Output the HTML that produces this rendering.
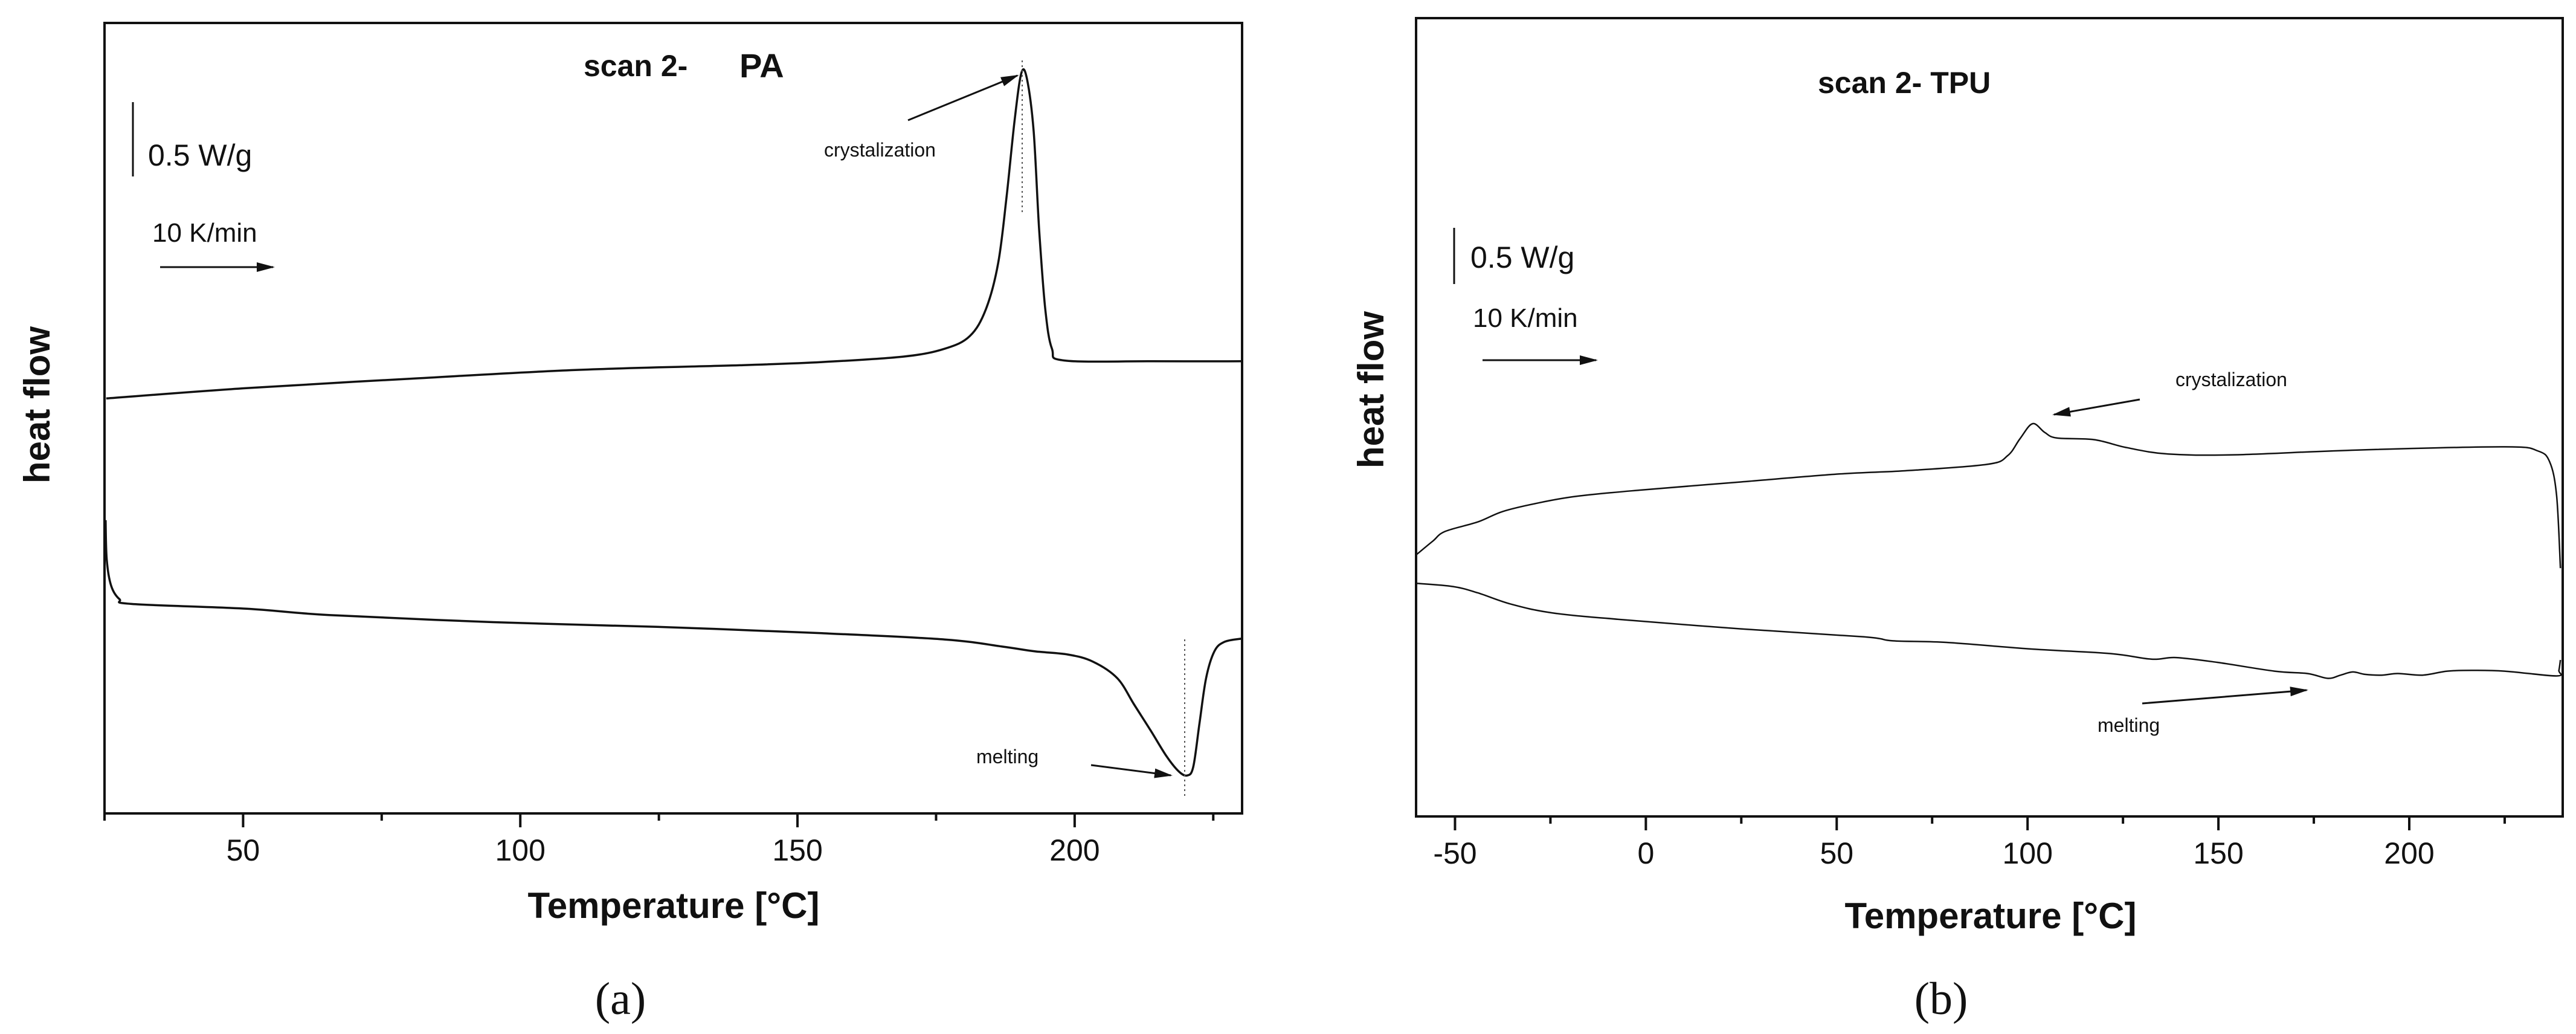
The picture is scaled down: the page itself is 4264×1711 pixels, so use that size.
<!DOCTYPE html>
<html><head><meta charset="utf-8">
<style>
html,body{margin:0;padding:0;background:#fff;}
svg{display:block;}
text{font-family:"Liberation Sans",Arial,sans-serif;fill:#111;}
</style></head>
<body>
<svg id="fig" width="4264" height="1711" viewBox="0 0 4264 1711" xmlns="http://www.w3.org/2000/svg">
  <rect x="0" y="0" width="4264" height="1711" fill="#fff"/>
  <defs>
    <marker id="ah" viewBox="0 0 10 10" refX="9" refY="5" markerWidth="30" markerHeight="16" orient="auto" markerUnits="userSpaceOnUse" preserveAspectRatio="none">
      <path d="M0,0 L10,5 L0,10 z" fill="#111"/>
    </marker>
  </defs>
  <g id="panelA"></g>
  <g id="panelB"></g>
</svg>
<script>
// ---------- Panel (a) PA data ----------
const paUpperT = [25.3,50.6,80.3,109.9,139.6,154.4,169.2,176.6,181.1,184.0,186.2,187.7,189.2,190.4,191.4,192.6,193.6,194.7,195.9,198.1,213.7,230];
const paUpperY = [52.5,53.8,55.0,56.1,56.7,57.1,57.8,58.8,60.4,63.8,69.6,77.9,87.9,93.7,92.9,86.3,73.8,63.8,58.8,57.3,57.2,57.2];
const paLowerT = [25.2,25.4,26.2,27.7,29.9,50.6,65.5,95.1,124.7,154.4,176.6,187.0,192.9,198.8,203.3,207.7,210.7,213.7,216.6,218.8,220.3,221.4,222.5,223.7,225.2,227.0,230];
const paLowerY = [37.1,32.1,28.8,27.1,26.5,25.9,25.1,24.2,23.6,22.8,22.0,21.1,20.5,20.1,19.2,17.1,13.8,10.5,7.2,5.3,4.8,5.9,11.3,17.1,20.5,21.7,22.1];
const paMajorTicks = [50,100,150,200];
const paMinorTicks = [25,75,125,175,225];
const paTickLabels = ["50","100","150","200"];

// ---------- Panel (b) TPU data ----------
const tpuUpperT = [-60.1,-55.8,-52.6,-44.0,-37.5,-28.9,-18.2,-1.0,24.9,50.7,67.9,89.4,94.8,98.0,101.3,104.5,107.7,117.4,126.0,136.8,154.0,186.3,225.0,233.6,236.8,238.6,239.6];
const tpuUpperY = [32.8,34.5,35.7,36.9,38.2,39.2,40.1,40.9,41.9,42.9,43.3,44.1,45.2,47.3,49.2,48.1,47.4,47.2,46.2,45.4,45.3,45.9,46.3,45.8,44.4,40.2,31.1];
const tpuLowerT = [-60.1,-50.5,-44.0,-35.4,-24.6,-7.4,24.9,57.1,64.7,78.7,100.2,121.7,132.5,138.9,149.7,164.7,173.3,178.7,182.0,185.2,188.4,192.7,197.0,203.5,209.9,216.4,225.0,238.6,239.2,239.6];
const tpuLowerY = [29.2,28.8,28.0,26.6,25.5,24.7,23.5,22.5,22.0,21.8,21.0,20.4,19.7,19.9,19.3,18.2,17.9,17.3,17.7,18.1,17.8,17.7,17.9,17.7,18.2,18.3,18.2,17.6,18.3,19.6];
const tpuMajorTicks = [-50,0,50,100,150,200];
const tpuMinorTicks = [-25,25,75,125,175,225];
const tpuTickLabels = ["-50","0","50","100","150","200"];

const NS = "http://www.w3.org/2000/svg";
function mk(parent, tag, attrs, txt){
  const e = document.createElementNS(NS, tag);
  for (const k in attrs) e.setAttribute(k, attrs[k]);
  if (txt !== undefined) e.textContent = txt;
  parent.appendChild(e);
  return e;
}
function linePath(T, Y, sx, sy){
  const P = T.map((t,i)=>[sx(t), sy(Y[i])]);
  let d = "M" + P[0][0].toFixed(1) + "," + P[0][1].toFixed(1);
  const k = 1/6;
  for (let i=0;i<P.length-1;i++){
    const p0 = P[Math.max(0,i-1)], p1 = P[i], p2 = P[i+1], p3 = P[Math.min(P.length-1,i+2)];
    const c1x = p1[0] + (p2[0]-p0[0])*k, c1y = p1[1] + (p2[1]-p0[1])*k;
    const c2x = p2[0] - (p3[0]-p1[0])*k, c2y = p2[1] - (p3[1]-p1[1])*k;
    d += "C" + c1x.toFixed(1)+","+c1y.toFixed(1)+" "+c2x.toFixed(1)+","+c2y.toFixed(1)+" "+p2[0].toFixed(1)+","+p2[1].toFixed(1);
  }
  return d;
}

function drawPanel(g, cfg){
  const sx = t => cfg.left + (t - cfg.xmin) / (cfg.xmax - cfg.xmin) * (cfg.right - cfg.left);
  const sy = v => cfg.bottom - v / 100 * (cfg.bottom - cfg.top);
  let c = mk(g, "path", {d: linePath(cfg.uT, cfg.uY, sx, sy), fill:"none", stroke:"#111", "stroke-width":cfg.sw, "stroke-linejoin":"round"});
  
  
  c = mk(g, "path", {d: linePath(cfg.lT, cfg.lY, sx, sy), fill:"none", stroke:"#111", "stroke-width":cfg.sw, "stroke-linejoin":"round"});
  
  
  const fr = mk(g, "rect", {x:cfg.left, y:cfg.top, width:cfg.right-cfg.left, height:cfg.bottom-cfg.top, fill:"none", stroke:"#111", "stroke-width":4});
  
  
  cfg.major.forEach((t,i)=>{
    const tk = mk(g, "line", {x1:sx(t), x2:sx(t), y1:cfg.bottom, y2:cfg.bottom+23, stroke:"#111", "stroke-width":4});
    
    
    const lb = mk(g, "text", {x:sx(t), y:cfg.bottom+78, "text-anchor":"middle", "font-size":50}, cfg.labels[i]);
    
    
  });
  cfg.minor.forEach(t=>{
    const tk = mk(g, "line", {x1:sx(t), x2:sx(t), y1:cfg.bottom, y2:cfg.bottom+12, stroke:"#111", "stroke-width":4});
    
    
  });
  return {sx, sy};
}

const gA = document.getElementById("panelA");
drawPanel(gA, {left:173, right:2056, top:38, bottom:1346, xmin:25, xmax:230.2, sw:3.5,
  uT:paUpperT, uY:paUpperY, lT:paLowerT, lY:paLowerY, major:paMajorTicks, minor:paMinorTicks, labels:paTickLabels});
</script>
<script>
(function(){
  const g = document.getElementById("panelA");
  let e;
  e = mk(g,"text",{x:966,y:126,"font-size":50,"font-weight":"bold"},"scan 2-");
   
  e = mk(g,"text",{x:1224,y:128,"font-size":56,"font-weight":"bold"},"PA");
   
  e = mk(g,"line",{x1:220,y1:169,x2:220,y2:292,stroke:"#111","stroke-width":3});
   
  e = mk(g,"text",{x:245,y:274,"font-size":50},"0.5 W/g");
   
  e = mk(g,"text",{x:252,y:400,"font-size":44},"10 K/min");
   
  e = mk(g,"line",{x1:265,y1:442,x2:452,y2:442,stroke:"#111","stroke-width":3,"marker-end":"url(#ah)"});
   
  e = mk(g,"text",{x:1364,y:259,"font-size":32},"crystalization");
   
  e = mk(g,"line",{x1:1503,y1:199,x2:1684,y2:125,stroke:"#111","stroke-width":3,"marker-end":"url(#ah)"});
   
  e = mk(g,"line",{x1:1692,y1:100,x2:1692,y2:354,stroke:"#555","stroke-width":2,"stroke-dasharray":"3,5"});
   
  e = mk(g,"text",{x:1616,y:1263,"font-size":32},"melting");
   
  e = mk(g,"line",{x1:1806,y1:1266,x2:1938,y2:1283,stroke:"#111","stroke-width":3,"marker-end":"url(#ah)"});
   
  e = mk(g,"line",{x1:1961,y1:1058,x2:1961,y2:1318,stroke:"#555","stroke-width":2,"stroke-dasharray":"3,5"});
   
  e = mk(g,"text",{x:1115,y:1519,"font-size":60,"font-weight":"bold","text-anchor":"middle"},"Temperature [°C]");
   
  e = mk(g,"text",{x:0,y:0,"font-size":60,"font-weight":"bold","text-anchor":"middle",transform:"translate(82,670) rotate(-90)"},"heat flow");
   
  e = mk(g,"text",{x:1027,y:1678,"font-size":76,"text-anchor":"middle",style:"font-family:'Liberation Serif',serif"},"(a)");
   
})();

(function(){
  const g = document.getElementById("panelB");
  drawPanel(g, {left:2344, right:4242, top:30, bottom:1351, xmin:-60.2, xmax:240.2, sw:2.5,
    uT:tpuUpperT, uY:tpuUpperY, lT:tpuLowerT, lY:tpuLowerY, major:tpuMajorTicks, minor:tpuMinorTicks, labels:tpuTickLabels});
  let e;
  e = mk(g,"text",{x:3009,y:154,"font-size":50,"font-weight":"bold"},"scan 2- TPU");
   
  e = mk(g,"line",{x1:2407,y1:377,x2:2407,y2:470,stroke:"#111","stroke-width":3});
   
  e = mk(g,"text",{x:2434,y:443,"font-size":50},"0.5 W/g");
   
  e = mk(g,"text",{x:2438,y:541,"font-size":44},"10 K/min");
   
  e = mk(g,"line",{x1:2454,y1:596,x2:2642,y2:596,stroke:"#111","stroke-width":3,"marker-end":"url(#ah)"});
   
  e = mk(g,"text",{x:3601,y:639,"font-size":32},"crystalization");
   
  e = mk(g,"line",{x1:3542,y1:661,x2:3400,y2:686,stroke:"#111","stroke-width":3,"marker-end":"url(#ah)"});
   
  e = mk(g,"text",{x:3472,y:1211,"font-size":32},"melting");
   
  e = mk(g,"line",{x1:3546,y1:1164,x2:3818,y2:1142,stroke:"#111","stroke-width":3,"marker-end":"url(#ah)"});
   
  e = mk(g,"text",{x:3295,y:1536,"font-size":60,"font-weight":"bold","text-anchor":"middle"},"Temperature [°C]");
   
  e = mk(g,"text",{x:0,y:0,"font-size":60,"font-weight":"bold","text-anchor":"middle",transform:"translate(2290,645) rotate(-90)"},"heat flow");
   
  e = mk(g,"text",{x:3213,y:1678,"font-size":76,"text-anchor":"middle",style:"font-family:'Liberation Serif',serif"},"(b)");
   
})();
</script>
</body></html>
